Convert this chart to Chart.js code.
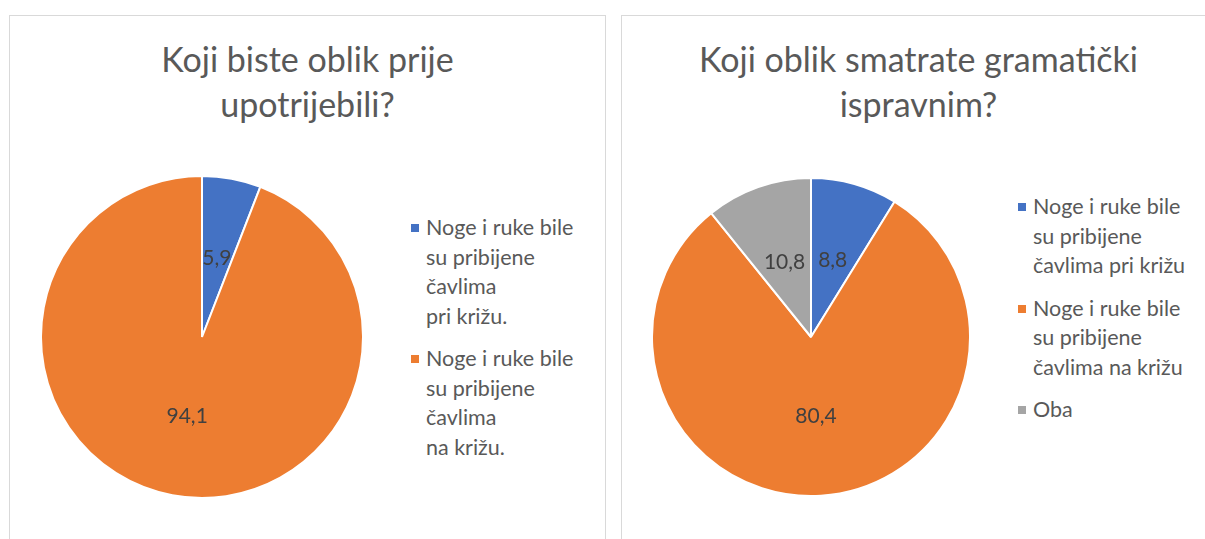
<!DOCTYPE html>
<html>
<head>
<meta charset="utf-8">
<script src="https://cdn.jsdelivr.net/npm/chart.js@4"></script>
<style>
    body { margin: 0; background: #fff; width: 1205px; height: 539px; overflow: hidden; position: relative; font-family: Lato, "Open Sans", sans-serif; color: #595959; }
    .panel { position: absolute; top: 15px; height: 560px; border: 1px solid #d9d9d9; box-sizing: border-box; }
    .title { position: absolute; left: 0; right: 0; top: 20px; text-align: center; font-size: 34px; font-weight: 400; line-height: 45px; }
    .pie { position: absolute; }
    .legend { position: absolute; font-size: 21.5px; line-height: 29.5px; }
    .legend .item { position: relative; padding-left: 15px; margin-bottom: 13px; white-space: nowrap; }
    .legend .box { position: absolute; left: 0; top: 11px; width: 8px; height: 8px; }
</style>
</head>
<body>
<div class="panel" style="left:9px; width:597px;">
    <div class="title">Koji biste oblik prije<br>upotrijebili?</div>
</div>
<div class="panel" style="left:621px; width:600px;">
    <div class="title" style="right:5px;">Koji oblik smatrate gramatički<br>ispravnim?</div>
</div>
<canvas id="leftPie" class="pie" style="left:40px; top:175px;" width="324" height="324"></canvas>
<canvas id="rightPie" class="pie" style="left:651px; top:177px;" width="320" height="320"></canvas>
<div id="leftLegend" class="legend" style="left:411px; top:213px;"></div>
<div id="rightLegend" class="legend" style="left:1018px; top:192px;"></div>

<script>
// Left chart: "Koji biste oblik prije upotrijebili?"
const leftLabels = [
    ["Noge i ruke bile", "su pribijene", "čavlima", "pri križu."],
    ["Noge i ruke bile", "su pribijene", "čavlima", "na križu."]
];
const leftValues = [5.9, 94.1];

// Right chart: "Koji oblik smatrate gramatički ispravnim?"
const rightLabels = [
    ["Noge i ruke bile", "su pribijene", "čavlima pri križu"],
    ["Noge i ruke bile", "su pribijene", "čavlima na križu"],
    ["Oba"]
];
const rightValues = [8.8, 80.4, 10.8];

const sliceColors = ["#4472C4", "#ED7D31", "#A5A5A5"];

// Value labels sit at the middle of each slice, with a decimal comma.
const valueLabels = {
    id: "valueLabels",
    afterDatasetsDraw(chart) {
        const ctx = chart.ctx;
        const values = chart.data.datasets[0].data;
        ctx.save();
        ctx.font = "21px Lato, 'Open Sans', sans-serif";
        ctx.fillStyle = "#404040";
        ctx.textAlign = "center";
        ctx.textBaseline = "middle";
        chart.getDatasetMeta(0).data.forEach((arc, i) => {
            const pos = arc.tooltipPosition();
            ctx.fillText(String(values[i]).replace(".", ","), pos.x, pos.y);
        });
        ctx.restore();
    }
};

function buildPie(canvasId, labels, values) {
    return new Chart(document.getElementById(canvasId), {
        type: "pie",
        data: {
            labels: labels,
            datasets: [{
                data: values,
                backgroundColor: sliceColors.slice(0, values.length),
                borderColor: "#ffffff",
                borderWidth: 2
            }]
        },
        options: {
            responsive: false,
            animation: false,
            layout: { padding: 0 },
            plugins: {
                legend: { display: false },
                tooltip: { enabled: false }
            }
        },
        plugins: [valueLabels]
    });
}

function buildLegend(chart, legendId) {
    const el = document.getElementById(legendId);
    const colors = chart.data.datasets[0].backgroundColor;
    chart.data.labels.forEach((lines, i) => {
        const item = document.createElement("div");
        item.className = "item";
        const box = document.createElement("span");
        box.className = "box";
        box.style.background = colors[i];
        item.appendChild(box);
        lines.forEach((line, j) => {
            if (j > 0) item.appendChild(document.createElement("br"));
            item.appendChild(document.createTextNode(line));
        });
        el.appendChild(item);
    });
}

const leftChart = buildPie("leftPie", leftLabels, leftValues);
const rightChart = buildPie("rightPie", rightLabels, rightValues);
buildLegend(leftChart, "leftLegend");
buildLegend(rightChart, "rightLegend");
</script>
</body>
</html>
